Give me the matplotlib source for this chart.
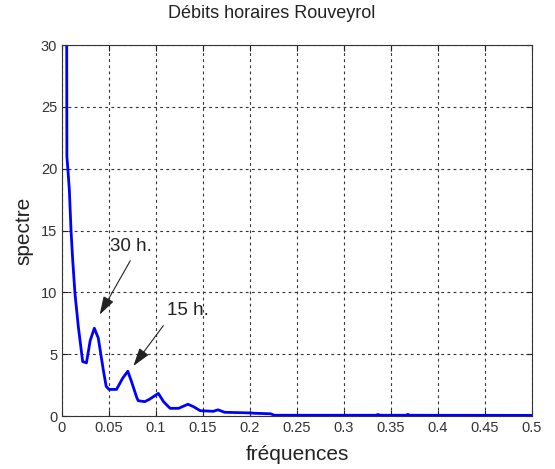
import matplotlib
matplotlib.use("Agg")
import matplotlib.pyplot as plt

freq = [0.0048, 0.0052, 0.0062, 0.0078, 0.0096, 0.0114, 0.0138, 0.0174, 0.022, 0.026,
        0.030, 0.0344, 0.0386, 0.044, 0.047, 0.050, 0.058, 0.0645, 0.070, 0.074,
        0.0795, 0.081, 0.088, 0.093, 0.1025, 0.108, 0.115, 0.124, 0.134, 0.140,
        0.147, 0.161, 0.166, 0.173, 0.200, 0.205, 0.222, 0.226, 0.334, 0.336,
        0.339, 0.366, 0.368, 0.370, 0.5]
spectre = [40, 21, 20, 18.3, 15, 12.6, 9.9, 7.2, 4.4, 4.3,
           6.1, 7.1, 6.3, 3.7, 2.4, 2.15, 2.15, 3.05, 3.62, 2.77,
           1.5, 1.24, 1.16, 1.35, 1.83, 1.16, 0.62, 0.62, 0.95, 0.75,
           0.43, 0.38, 0.5, 0.3, 0.25, 0.22, 0.18, 0.06, 0.06, 0.12,
           0.06, 0.06, 0.13, 0.06, 0.05]

xticks = [0, 0.05, 0.1, 0.15, 0.2, 0.25, 0.3, 0.35, 0.4, 0.45, 0.5]
xticklabels = ["0", "0.05", "0.1", "0.15", "0.2", "0.25", "0.3", "0.35", "0.4", "0.45", "0.5"]
yticks = [0, 5, 10, 15, 20, 25, 30]

plt.rcParams['font.family'] = ['Liberation Sans', 'DejaVu Sans']

W, H = 555, 469
fig = plt.figure(figsize=(W / 100, H / 100), dpi=100)
ax = fig.add_axes([62 / W, 1 - 416 / H, (532 - 62) / W, (416 - 45) / H])

ax.plot(freq, spectre, color='#0000ff', lw=2)
ax.set_xlim(0, 0.5)
ax.set_ylim(0, 30)
ax.set_xticks(xticks)
ax.set_xticklabels(xticklabels)
ax.set_yticks(yticks)
ax.tick_params(direction='in', labelsize=10.5, colors='#222222', length=4, top=True, right=True,
               labelcolor='#333333')
ax.grid(True, color='#333333', linestyle=(0, (2.5, 3)), lw=0.8)
for s in ax.spines.values():
    s.set_color('#333333')

ax.set_xlabel('fréquences', fontsize=15, color='#222222', labelpad=7)
ax.set_ylabel('spectre', fontsize=15, color='#222222', labelpad=5)
fig.text(272 / W, 1 - 14 / H, 'Débits horaires Rouveyrol', ha='center', va='center',
         fontsize=13, color='#222222')

astyle = '-|>,head_length=0.8,head_width=0.25'
ax.annotate('', xy=(0.0386, 8.0), xytext=(0.0741, 12.75),
            arrowprops=dict(arrowstyle=astyle, color='#222222', lw=0.8, mutation_scale=14))
ax.annotate('', xy=(0.0741, 3.86), xytext=(0.1096, 7.49),
            arrowprops=dict(arrowstyle=astyle, color='#222222', lw=0.8, mutation_scale=14))
ax.text(0.051, 13.7, '30 h.', fontsize=13.5, ha='left', va='center', color='#222222')
ax.text(0.1114, 8.57, '15 h.', fontsize=13.5, ha='left', va='center', color='#222222')

fig.savefig('out.png', dpi=100)
